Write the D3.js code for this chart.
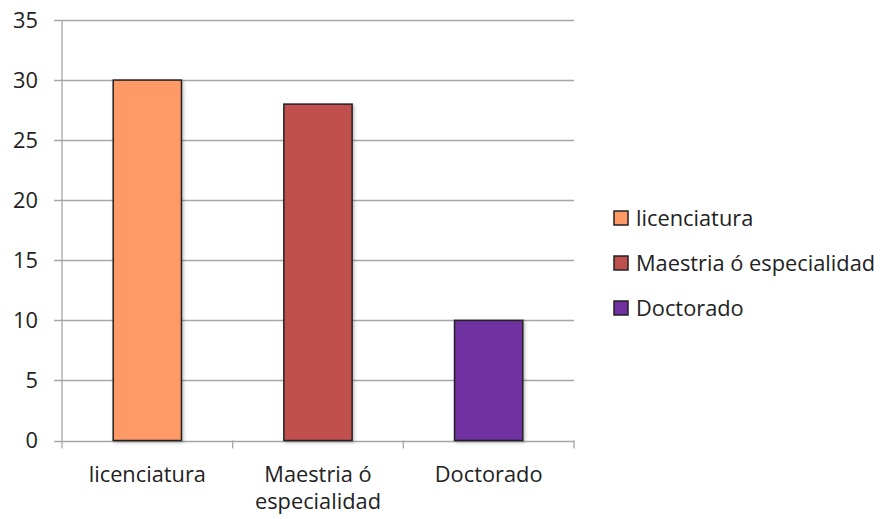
<!DOCTYPE html>
<html><head><meta charset="utf-8">
<script src="https://cdnjs.cloudflare.com/ajax/libs/d3/7.8.5/d3.min.js"></script>
<style>body{margin:0;background:#fff}svg{display:block}text{font-family:"Open Sans",sans-serif;fill:#222}</style>
</head><body><svg id="c" width="880" height="519"></svg>
<script>
const categories = ["licenciatura", "Maestria ó especialidad", "Doctorado"];
const xLabelLines = [["licenciatura"], ["Maestria ó", "especialidad"], ["Doctorado"]];
const values = [30, 28, 10];
const colors = ["#FF9966", "#C0504D", "#7030A0"];
const yTicks = [0, 5, 10, 15, 20, 25, 30, 35];

const svg = d3.select("#c");
const m = {l: 62, r: 574, t: 20, b: 440.5};
const x = d3.scaleBand().domain(categories).range([m.l, m.r]).paddingInner(0.6).paddingOuter(0.3);
const xb = d3.scaleBand().domain(categories).range([m.l, m.r]);
const y = d3.scaleLinear().domain([0, 35]).range([m.b, m.t]);
const grid = "#A6A6A6";
const fs = 21.8;

svg.append("g").selectAll("line").data(yTicks).join("line")
  .attr("x1", m.l - 8).attr("x2", m.r).attr("y1", d => Math.round(y(d)) + 0.5).attr("y2", d => Math.round(y(d)) + 0.5)
  .attr("stroke", grid).attr("stroke-width", 1.3);
svg.append("line").attr("x1", m.l).attr("x2", m.l).attr("y1", m.t).attr("y2", m.b)
  .attr("stroke", grid).attr("stroke-width", 1.3);
svg.append("g").selectAll("text").data(yTicks).join("text")
  .attr("x", 38).attr("y", d => y(d)).attr("dy", "0.36em").attr("text-anchor", "end")
  .attr("font-size", fs).text(d => d);

const bounds = [m.l].concat(categories.map(c => xb(c) + xb.bandwidth()));
svg.append("g").selectAll("line").data(bounds).join("line")
  .attr("x1", d => d).attr("x2", d => d).attr("y1", m.b).attr("y2", m.b + 8)
  .attr("stroke", grid).attr("stroke-width", 1.3);

const defs = svg.append("defs");
const f = defs.append("filter").attr("id", "sh").attr("x", "-20%").attr("y", "-20%").attr("width", "140%").attr("height", "140%");
f.append("feDropShadow").attr("dx", 1.5).attr("dy", 1.5).attr("stdDeviation", 1.5).attr("flood-color", "#000").attr("flood-opacity", 0.25);
svg.append("g").selectAll("rect").data(values).join("rect")
  .attr("x", (d, i) => x(categories[i]))
  .attr("width", x.bandwidth())
  .attr("y", d => y(d))
  .attr("height", d => y(0) - y(d))
  .attr("fill", (d, i) => colors[i])
  .attr("stroke", "#222").attr("stroke-width", 1.5)
  .attr("filter", "url(#sh)");

const xl = svg.append("g").selectAll("text").data(xLabelLines).join("text")
  .attr("x", (d, i) => xb(categories[i]) + xb.bandwidth() / 2)
  .attr("y", 482).attr("text-anchor", "middle").attr("font-size", fs);
xl.selectAll("tspan").data(d => d).join("tspan")
  .attr("x", function() { return d3.select(this.parentNode).attr("x"); })
  .attr("dy", (d, i) => i === 0 ? 0 : 27).text(d => d);

const lg = svg.append("g").selectAll("g").data(categories).join("g")
  .attr("transform", (d, i) => `translate(614,${211 + i * 45})`);
lg.append("rect").attr("width", 14).attr("height", 14)
  .attr("fill", (d, i) => colors[i]).attr("stroke", "#222").attr("stroke-width", 1.5);
lg.append("text").attr("x", 22).attr("y", 7).attr("dy", "0.36em").attr("font-size", fs).text(d => d);
</script></body></html>
